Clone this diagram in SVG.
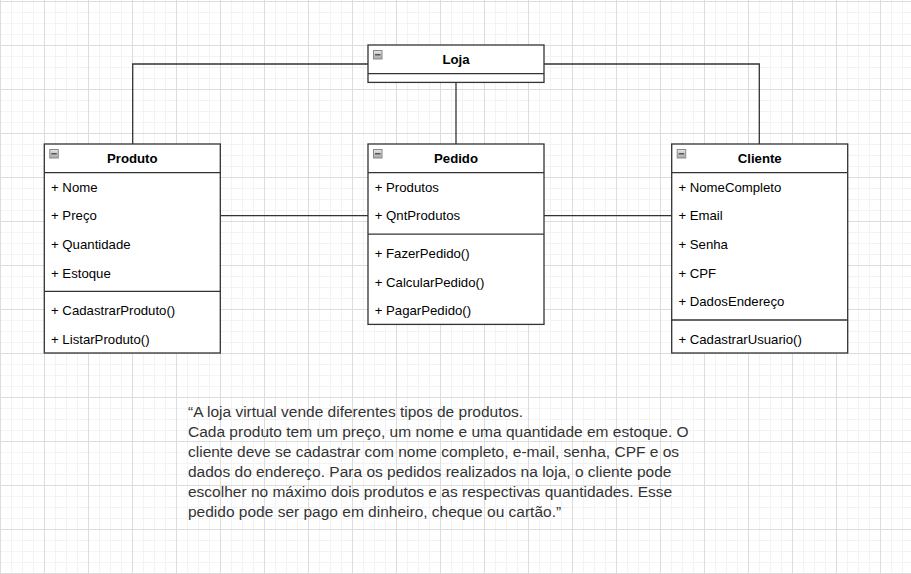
<svg xmlns="http://www.w3.org/2000/svg" width="911" height="574" viewBox="0 0 911 574">
<style>
.box{fill:#ffffff;stroke:#333333;stroke-width:1.3}
.sep{stroke:#333333;stroke-width:1.3;fill:none}
.conn{stroke:#333333;stroke-width:1.3;fill:none}
.hd{font-family:"Liberation Sans",Arial,sans-serif;font-size:13.2px;font-weight:bold;fill:#000000;text-anchor:middle}
.at{font-family:"Liberation Sans",Arial,sans-serif;font-size:13.2px;fill:#000000}
.para{font-family:"Liberation Sans",Arial,sans-serif;font-size:15.5px;fill:#333333}
</style>
<defs>
<linearGradient id="ig" x1="0" y1="0" x2="0" y2="1">
<stop offset="0" stop-color="#e6e6e6"/>
<stop offset="1" stop-color="#a8a8a8"/>
</linearGradient>
<g id="icon">
<rect x="0.5" y="0.5" width="8.5" height="8.5" fill="url(#ig)" stroke="#8a8a8a" stroke-width="1"/>
<rect x="2" y="4" width="5.5" height="1.5" fill="#555555"/>
</g>
<pattern id="grid" width="44" height="44" x="0" y="1" patternUnits="userSpaceOnUse">
<rect x="0" y="0" width="44" height="44" fill="#ffffff"/>
<rect x="11" y="0" width="1" height="44" fill="#f3f3f3"/>
<rect x="22" y="0" width="1" height="44" fill="#f3f3f3"/>
<rect x="33" y="0" width="1" height="44" fill="#f3f3f3"/>
<rect x="0" y="11" width="44" height="1" fill="#f3f3f3"/>
<rect x="0" y="22" width="44" height="1" fill="#f3f3f3"/>
<rect x="0" y="33" width="44" height="1" fill="#f3f3f3"/>
<rect x="0" y="0" width="1" height="44" fill="#dddddd"/>
<rect x="0" y="0" width="44" height="1" fill="#dddddd"/>
</pattern>
</defs>
<rect x="0" y="0" width="911" height="574" fill="url(#grid)"/>

<g id="connectors">
<polyline class="conn" points="368,64 132.7,64 132.7,144"/>
<polyline class="conn" points="544,64 759.3,64 759.3,144"/>
<line class="conn" x1="456" y1="82.4" x2="456" y2="144"/>
<line class="conn" x1="220.3" y1="215.7" x2="368" y2="215.7"/>
<line class="conn" x1="544" y1="215.7" x2="671.7" y2="215.7"/>
</g>

<g id="loja">
<rect class="box" x="368" y="45" width="176" height="37.4"/>
<line class="sep" x1="368" y1="73.6" x2="544" y2="73.6"/>
<use href="#icon" x="373" y="50"/>
<text class="hd" x="456" y="64">Loja</text>
</g>

<g id="produto">
<rect class="box" x="44.3" y="144" width="176" height="209"/>
<line class="sep" x1="44.3" y1="172.6" x2="220.3" y2="172.6"/>
<line class="sep" x1="44.3" y1="291.4" x2="220.3" y2="291.4"/>
<use href="#icon" x="49.3" y="149"/>
<text class="hd" x="132.3" y="163">Produto</text>
<text class="at" x="51" y="191.7">+ Nome</text>
<text class="at" x="51" y="220.3">+ Preço</text>
<text class="at" x="51" y="248.9">+ Quantidade</text>
<text class="at" x="51" y="277.5">+ Estoque</text>
<text class="at" x="51" y="315.1">+ CadastrarProduto()</text>
<text class="at" x="51" y="343.7">+ ListarProduto()</text>
</g>

<g id="pedido">
<rect class="box" x="368" y="144" width="176" height="180.4"/>
<line class="sep" x1="368" y1="172.6" x2="544" y2="172.6"/>
<line class="sep" x1="368" y1="234.2" x2="544" y2="234.2"/>
<use href="#icon" x="373" y="149"/>
<text class="hd" x="456" y="163">Pedido</text>
<text class="at" x="374.7" y="191.7">+ Produtos</text>
<text class="at" x="374.7" y="220.3">+ QntProdutos</text>
<text class="at" x="374.7" y="257.9">+ FazerPedido()</text>
<text class="at" x="374.7" y="286.5">+ CalcularPedido()</text>
<text class="at" x="374.7" y="315.1">+ PagarPedido()</text>
</g>

<g id="cliente">
<rect class="box" x="671.7" y="144" width="176" height="209"/>
<line class="sep" x1="671.7" y1="172.6" x2="847.7" y2="172.6"/>
<line class="sep" x1="671.7" y1="320" x2="847.7" y2="320"/>
<use href="#icon" x="676.7" y="149"/>
<text class="hd" x="759.7" y="163">Cliente</text>
<text class="at" x="678.4" y="191.7">+ NomeCompleto</text>
<text class="at" x="678.4" y="220.3">+ Email</text>
<text class="at" x="678.4" y="248.9">+ Senha</text>
<text class="at" x="678.4" y="277.5">+ CPF</text>
<text class="at" x="678.4" y="306.1">+ DadosEndereço</text>
<text class="at" x="678.4" y="343.7">+ CadastrarUsuario()</text>
</g>

<g id="descricao">
<text class="para" x="188" y="417">“A loja virtual vende diferentes tipos de produtos.</text>
<text class="para" x="188" y="437">Cada produto tem um preço, um nome e uma quantidade em estoque. O</text>
<text class="para" x="188" y="457">cliente deve se cadastrar com nome completo, e-mail, senha, CPF e os</text>
<text class="para" x="188" y="477">dados do endereço. Para os pedidos realizados na loja, o cliente pode</text>
<text class="para" x="188" y="497">escolher no máximo dois produtos e as respectivas quantidades. Esse</text>
<text class="para" x="188" y="517">pedido pode ser pago em dinheiro, cheque ou cartão.”</text>
</g>
</svg>
